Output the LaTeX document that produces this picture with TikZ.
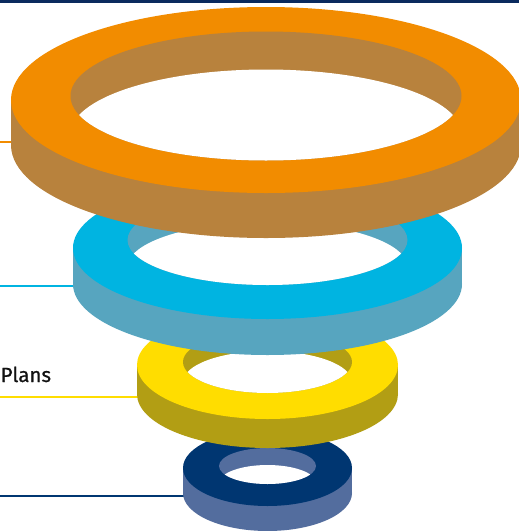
\documentclass[tikz,border=0pt]{standalone}
\usepackage{fontspec}
\setmainfont{Fira Sans}
\newfontfamily\plansfont[FakeBold=0.8]{Fira Sans}
\definecolor{orTop}{HTML}{F28C00}
\definecolor{orSide}{HTML}{B8823D}
\definecolor{cyTop}{HTML}{00B4E1}
\definecolor{cySide}{HTML}{57A5BF}
\definecolor{yeTop}{HTML}{FFDD00}
\definecolor{yeSide}{HTML}{B29E14}
\definecolor{nvTop}{HTML}{003671}
\definecolor{nvSide}{HTML}{536D9E}
\definecolor{barCol}{HTML}{0A2A5E}
\definecolor{txtCol}{HTML}{111111}
\colorlet{rtop}{orTop}
\colorlet{rside}{orSide}
% ring: cx, cy, R, Ry, T, icy, r, ry, t  (colours: rtop, rside)
\newcommand{\myring}[9]{%
  \fill[rside] (#1-#3,#2) rectangle (#1+#3,#2+#5);
  \fill[rside] (#1,#2+#5) ellipse [x radius=#3pt, y radius=#4pt];
  \fill[rtop] (#1,#2) ellipse [x radius=#3pt, y radius=#4pt];
  \fill[rside] (#1,#6) ellipse [x radius=#7pt, y radius=#8pt];
  \begin{scope}
    \clip (#1,#6) ellipse [x radius=#7pt, y radius=#8pt];
    \fill[white] (#1,#6+#9) ellipse [x radius=#7pt, y radius=#8pt];
  \end{scope}%
}
\tikzset{leader/.style={line width=1.2pt}}
\begin{document}
\begin{tikzpicture}[x=1pt,y=-1pt]
\useasboundingbox (0,0) rectangle (519,531);
\fill[white] (0,0) rectangle (519,531);
% top bar
\fill[barCol] (0,0) rectangle (519,3.2);
% leader lines
\coordinate (oL) at (0,142);  \coordinate (oR) at (14,142);
\coordinate (cL) at (0,286);  \coordinate (cR) at (76,286);
\coordinate (yL) at (0,397);  \coordinate (yR) at (140,397);
\coordinate (nL) at (0,496);  \coordinate (nR) at (186,496);
\draw[leader, orTop] (oL) -- (oR);
\draw[leader, cyTop] (cL) -- (cR);
\draw[leader, yeTop, line width=1.6pt] (yL) -- (yR);
\draw[leader, nvTop] (nL) -- (nR);
% rings, back to front
\colorlet{rtop}{nvTop}\colorlet{rside}{nvSide}
\myring{267.5}{468}{84.5}{38}{25}{466}{48.5}{18}{17}
\colorlet{rtop}{yeTop}\colorlet{rside}{yeSide}
\myring{267.5}{365}{130.5}{54}{29}{362}{84.5}{31}{20}
\colorlet{rtop}{cyTop}\colorlet{rside}{cySide}
\myring{267.5}{248}{194.5}{71}{36}{240}{140}{45}{27}
\colorlet{rtop}{orTop}\colorlet{rside}{orSide}
\myring{266}{100}{255}{93}{45}{96}{195.5}{64.5}{38}
% text
\node[anchor=base west, inner sep=0pt, font=\plansfont\fontsize{20.5}{24}\selectfont, text=txtCol] (plans) at (0.5,382) {Plans};
\end{tikzpicture}
\end{document}
